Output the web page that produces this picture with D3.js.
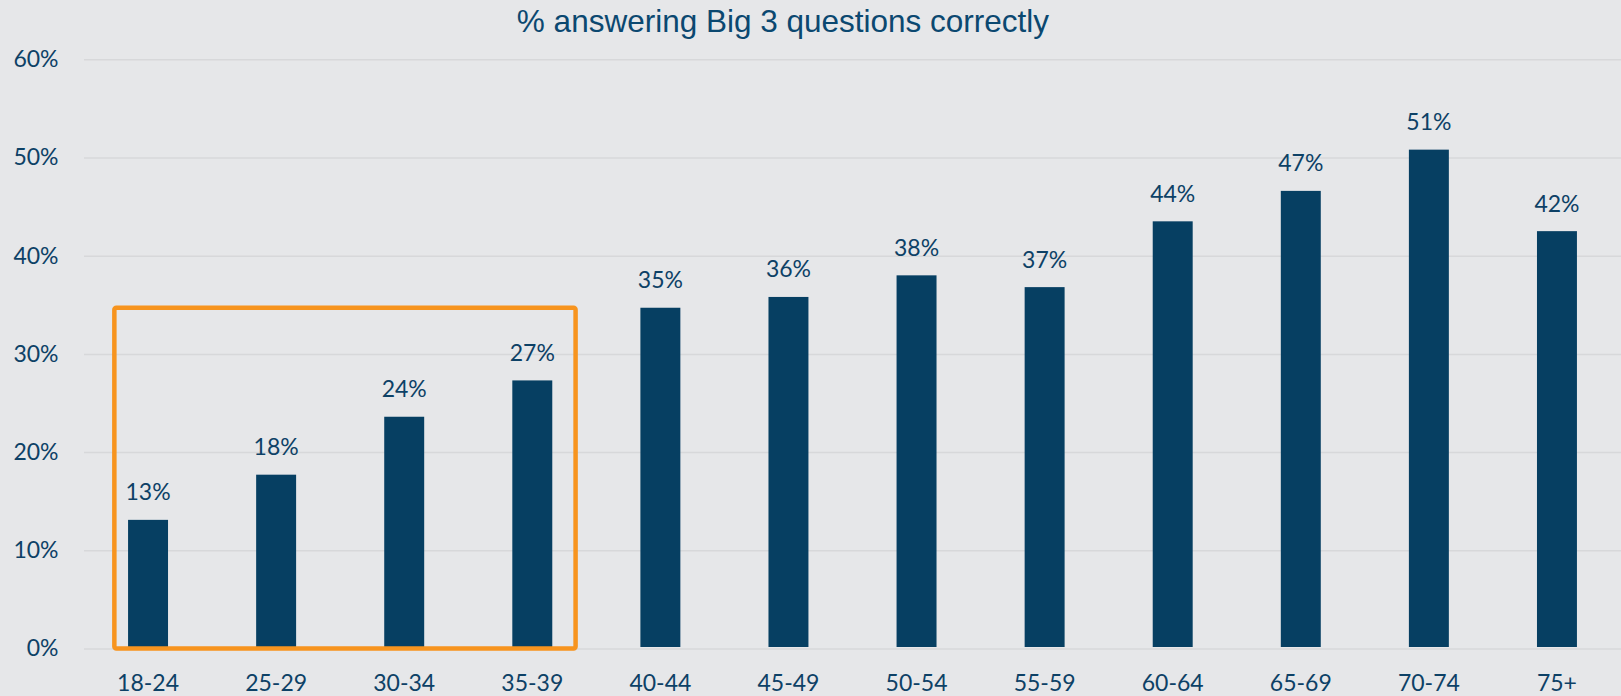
<!DOCTYPE html>
<html>
<head>
<meta charset="utf-8">
<script src="https://cdn.jsdelivr.net/npm/d3@7"></script>
<style>
  html, body { margin: 0; padding: 0; background: #e6e7e9; overflow: hidden; }
  svg { display: block; }
</style>
</head>
<body>
<svg id="chart"></svg>
<script>
// data
let ageGroups = ['18-24', '25-29', '30-34', '35-39', '40-44', '45-49', '50-54', '55-59', '60-64', '65-69', '70-74', '75+'];
let shares = [0.131, 0.177, 0.236, 0.273, 0.347, 0.358, 0.380, 0.368, 0.435, 0.466, 0.508, 0.425];
let valueLabels = ['13%', '18%', '24%', '27%', '35%', '36%', '38%', '37%', '44%', '47%', '51%', '42%'];
let yTicks = [0, 0.1, 0.2, 0.3, 0.4, 0.5, 0.6];
let highlightGroups = ['18-24', '35-39'];
let highlightTop = 0.347;
let title = '% answering Big 3 questions correctly';

// configuration of svg/plot area
let config = { 'svg': {}, 'margin': {}, 'plot': {} };

config.svg.width = 1621;
config.svg.height = 696;

config.margin.top = 59.3;
config.margin.right = 0;
config.margin.bottom = 47.5;
config.margin.left = 84;

config.plot.x = config.margin.left;
config.plot.y = config.margin.top;
config.plot.width = config.svg.width - config.margin.left - config.margin.right;
config.plot.height = config.svg.height - config.margin.top - config.margin.bottom;

let colors = {
  bar: '#063f62',
  text: '#0d4166',
  title: '#0b4870',
  grid: '#d7d8da',
  box: '#f7941e'
};

let svg = d3.select('svg#chart');
svg.attr('width', config.svg.width);
svg.attr('height', config.svg.height);

svg.append('rect')
  .attr('width', config.svg.width)
  .attr('height', config.svg.height)
  .attr('fill', '#e6e7e9');

let plot = svg.append('g');
plot.attr('id', 'plot');
plot.attr('transform', translate(config.plot.x, config.plot.y));

// scales
let scale = {};

scale.x = d3.scaleBand()
  .domain(ageGroups)
  .range([0, config.plot.width])
  .paddingInner(0.688)
  .paddingOuter(0.344);

scale.y = d3.scaleLinear()
  .domain([0, 0.6])
  .range([config.plot.height, 0]);

// gridlines
let axis = {};
axis.grid = d3.axisLeft(scale.y)
  .tickValues(yTicks)
  .tickSize(-config.plot.width)
  .tickFormat('');

let gg = plot.append('g').attr('class', 'grid').call(axis.grid);
gg.select('.domain').remove();
gg.selectAll('line').attr('stroke', colors.grid).attr('stroke-width', 1.5);

// y axis labels
axis.y = d3.axisLeft(scale.y)
  .tickValues(yTicks)
  .tickSize(0)
  .tickPadding(25.5)
  .tickFormat(d3.format('.0%'));

let gy = plot.append('g').attr('class', 'axis').call(axis.y);
gy.select('.domain').remove();
gy.selectAll('text')
  .attr('fill', colors.text)
  .attr('dy', '0.32em')
  .style('font-family', 'Lato, sans-serif')
  .style('font-size', '23px');

// x axis labels
axis.x = d3.axisBottom(scale.x)
  .tickSize(0)
  .tickPadding(26);

let gx = plot.append('g')
  .attr('class', 'axis')
  .attr('transform', translate(0, config.plot.height))
  .call(axis.x);
gx.select('.domain').remove();
gx.selectAll('text')
  .attr('fill', colors.text)
  .style('font-family', 'Lato, sans-serif')
  .style('font-size', '23px');

// bars
let rows = ageGroups.map((g, i) => ({ group: g, value: shares[i], label: valueLabels[i] }));

plot.selectAll('rect.bar')
  .data(rows)
  .enter()
  .append('rect')
  .attr('class', 'bar')
  .attr('x', d => scale.x(d.group))
  .attr('y', d => scale.y(d.value))
  .attr('width', scale.x.bandwidth())
  .attr('height', d => scale.y(0) - scale.y(d.value) - 1.5)
  .attr('fill', colors.bar);

plot.selectAll('text.value')
  .data(rows)
  .enter()
  .append('text')
  .attr('class', 'value')
  .attr('x', d => scale.x(d.group) + scale.x.bandwidth() / 2)
  .attr('y', d => scale.y(d.value) - 19.5)
  .attr('text-anchor', 'middle')
  .attr('fill', colors.text)
  .style('font-family', 'Lato, sans-serif')
  .style('font-size', '23px')
  .text(d => d.label);

// orange highlight box around the youngest groups
let step = scale.x.step();
let boxLeft = scale.x(highlightGroups[0]) - step * 0.107;
let boxRight = scale.x(highlightGroups[1]) + scale.x.bandwidth() + step * 0.182;

plot.append('rect')
  .attr('x', boxLeft)
  .attr('y', scale.y(highlightTop))
  .attr('width', boxRight - boxLeft)
  .attr('height', scale.y(0) - scale.y(highlightTop))
  .attr('rx', 2)
  .attr('fill', 'none')
  .attr('stroke', colors.box)
  .attr('stroke-width', 4.5);

// title
svg.append('text')
  .attr('x', 783)
  .attr('y', 31.7)
  .attr('text-anchor', 'middle')
  .attr('fill', colors.title)
  .style('font-family', '"Liberation Sans", Arial, sans-serif')
  .style('font-size', '31.5px')
  .text(title);

// helper method to make translating easier
function translate(x, y) {
  return 'translate(' + x + ',' + y + ')';
}
</script>
</body>
</html>
